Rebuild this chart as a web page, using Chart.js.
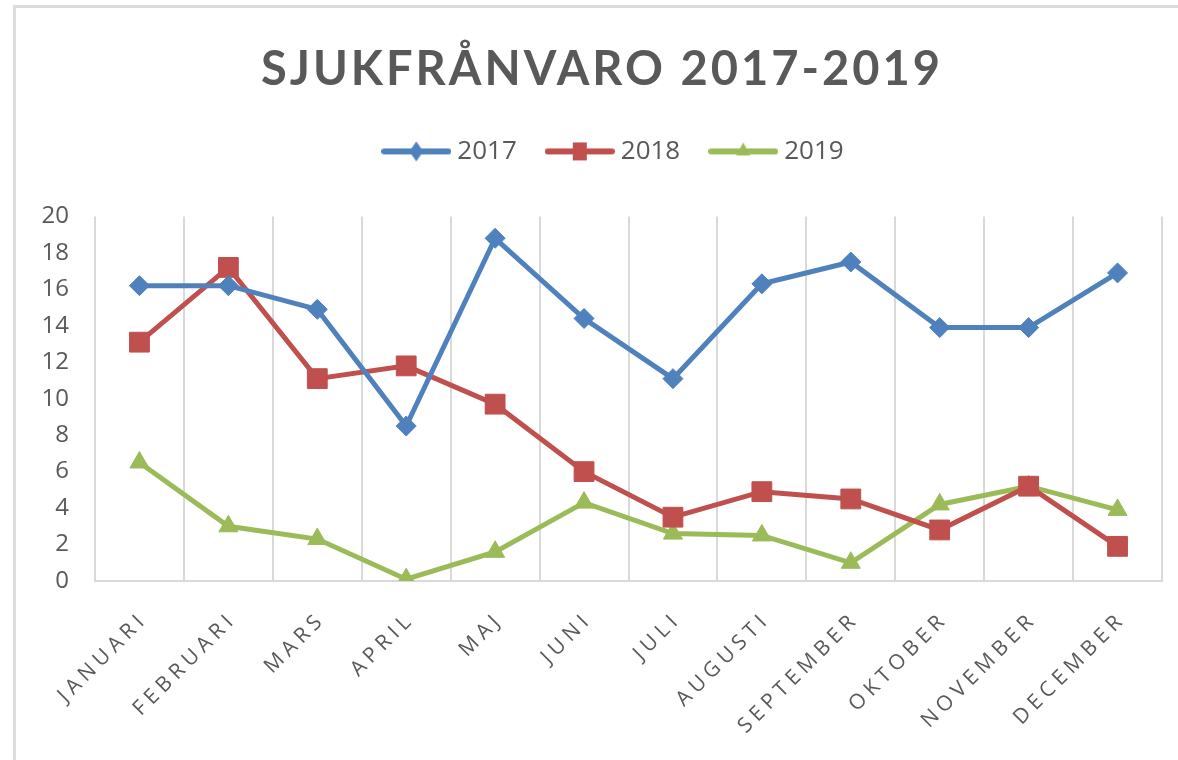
<!DOCTYPE html>
<html><head><meta charset="utf-8">
<script src="https://cdn.jsdelivr.net/npm/chart.js@4/dist/chart.umd.min.js"></script>
<style>
html,body{margin:0;padding:0;background:#fff;overflow:hidden;}
#frame{position:absolute;left:13px;top:5px;width:1300px;height:900px;border-left:3px solid #dcdcdc;border-top:3px solid #dcdcdc;}
#wrap{position:absolute;left:0;top:0;width:1178px;height:760px;}
</style></head><body>
<div id="frame"></div>
<div id="wrap"><canvas id="c"></canvas></div>
<script>
const titleText = 'SJUKFRÅNVARO 2017-2019';
const categories = ['JANUARI','FEBRUARI','MARS','APRIL','MAJ','JUNI','JULI','AUGUSTI','SEPTEMBER','OKTOBER','NOVEMBER','DECEMBER'];
const seriesNames = ['2017','2018','2019'];
const values2017 = [16.2, 16.2, 14.9, 8.5, 18.8, 14.4, 11.1, 16.3, 17.5, 13.9, 13.9, 16.9];
const values2018 = [13.1, 17.2, 11.1, 11.8, 9.7, 6.0, 3.5, 4.9, 4.5, 2.8, 5.2, 1.9];
const values2019 = [6.5, 3.0, 2.3, 0.1, 1.6, 4.3, 2.6, 2.5, 1.0, 4.2, 5.2, 3.9];
const yTicks = {min: 0, max: 20, step: 2};

const colors = ['#4F81BD', '#C0504D', '#9BBB59'];
const styles = ['rectRot', 'rect', 'triangle'];
const radii = [10, 14, 11];

function legendSymbol(color, style) {
  const cv = document.createElement('canvas');
  cv.width = 70; cv.height = 24;
  const c = cv.getContext('2d');
  c.strokeStyle = color; c.lineWidth = 6; c.lineCap = 'round';
  c.beginPath(); c.moveTo(3, 12); c.lineTo(67, 12); c.stroke();
  c.fillStyle = color;
  c.beginPath();
  if (style === 'rectRot') { c.moveTo(35, 2); c.lineTo(42, 12); c.lineTo(35, 22); c.lineTo(28, 12); c.closePath(); }
  else if (style === 'rect') { c.rect(28, 3, 14, 18); }
  else { c.moveTo(35, 3); c.lineTo(42, 16); c.lineTo(28, 16); c.closePath(); }
  c.fill();
  return cv;
}
const symbols = colors.map((col, i) => legendSymbol(col, styles[i]));

const allValues = [values2017, values2018, values2019];
const datasets = seriesNames.map((name, i) => ({
  label: name,
  data: allValues[i],
  borderColor: colors[i],
  backgroundColor: colors[i],
  borderWidth: 5,
  pointStyle: styles[i],
  pointRadius: radii[i],
  pointHoverRadius: radii[i],
  pointBorderWidth: 1,
  tension: 0
}));

const layoutPlugin = {
  id: 'layoutTweaks',
  beforeLayout(chart) {
    const lg = chart.legend;
    if (lg && !lg._wrapped) {
      const orig = lg.fit;
      lg.fit = function () { orig.call(this); this.height = 113; };
      lg._wrapped = true;
    }
  },
  afterLayout(chart) {
    const lg = chart.legend;
    if (lg) { lg.left += 14; lg.right += 14; }
  },
  beforeDraw(chart) {
    const x = chart.scales.x;
    if (!x._wrapped) {
      const orig = x.drawLabels;
      x.drawLabels = function (area) { const c = this.ctx; c.save(); c.letterSpacing = '5px'; orig.call(this, area); c.restore(); };
      x._wrapped = true;
    }
    const t = chart.titleBlock;
    if (t && !t._wrapped) {
      const orig = t.draw;
      t.draw = function (area) { const c = this.ctx; c.save(); c.letterSpacing = '3px'; orig.call(this, area); c.restore(); };
      t._wrapped = true;
    }
  }
};

new Chart(document.getElementById('c'), {
  type: 'line',
  data: { labels: categories, datasets },
  plugins: [layoutPlugin],
  options: {
    responsive: true,
    maintainAspectRatio: false,
    devicePixelRatio: 1,
    animation: false,
    layout: { padding: { left: 42, right: 16, top: 0, bottom: 0 } },
    plugins: {
      title: {
        display: true,
        text: titleText,
        color: '#595959',
        font: { family: 'Lato', size: 47, weight: 'bold' },
        padding: { top: 42, bottom: 5 }
      },
      legend: {
        display: true,
        labels: {
          usePointStyle: true,
          pointStyleWidth: 56,
          padding: 35,
          color: '#595959',
          font: { family: "'Open Sans'", size: 26 },
          generateLabels: (chart) => chart.data.datasets.map((ds, i) => ({
            text: ds.label, pointStyle: symbols[i], fillStyle: colors[i], strokeStyle: colors[i],
            lineWidth: 0, hidden: false, datasetIndex: i, fontColor: '#595959'
          }))
        }
      },
      tooltip: { enabled: false }
    },
    scales: {
      x: {
        offset: true,
        grid: { display: true, offset: true, color: '#D9D9D9', lineWidth: 2, drawTicks: false },
        border: { display: true, color: '#D9D9D9', width: 2 },
        ticks: { color: '#595959', font: { family: 'Open Sans', size: 21 }, minRotation: 45, maxRotation: 45, padding: 26, labelOffset: 5, autoSkip: false },
        afterFit: (s) => { s.height = 179; }
      },
      y: {
        min: yTicks.min, max: yTicks.max,
        grid: { display: false, drawTicks: false },
        border: { display: false },
        ticks: { stepSize: yTicks.step, color: '#595959', font: { family: 'Open Sans', size: 24 }, padding: 26 },
        afterFit: (s) => { s.width = 53; }
      }
    }
  }
});
</script>
</body></html>
